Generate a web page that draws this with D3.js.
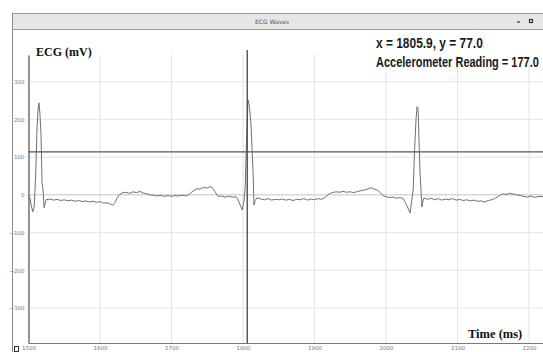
<!DOCTYPE html>
<html>
<head>
<meta charset="utf-8">
<script src="https://cdn.jsdelivr.net/npm/d3@7"></script>
<style>
  html, body { margin: 0; padding: 0; background: #fff; }
  svg { display: block; }
</style>
</head>
<body>
<div id="chart"></div>
<script>
// ECG samples (time in ms, value in mV)
const timeMs = [
  1500, 1502, 1504, 1506, 1508, 1510, 1512, 1513.5, 1514.7, 1516, 1517.5, 1519, 1520.5, 1521.7, 1523, 1524.5,
  1530, 1535, 1540, 1545, 1550, 1555, 1560, 1565, 1570, 1575, 1580, 1585, 1590, 1595, 1600, 1605, 1610, 1615,
  1618, 1621, 1624, 1627, 1631, 1636, 1641, 1646, 1651, 1656, 1660, 1665, 1670, 1675, 1680, 1685, 1690, 1695,
  1700, 1705, 1710, 1715, 1720, 1725, 1730, 1735, 1740, 1745, 1750, 1754, 1758, 1761, 1765, 1770, 1775, 1780,
  1785, 1790, 1793, 1796, 1799, 1801, 1803, 1805, 1807, 1809, 1811, 1813, 1814, 1815.4, 1817, 1819.6,
  1825, 1830, 1835, 1840, 1845, 1850, 1855, 1860, 1865, 1870, 1875, 1880, 1885, 1890, 1895, 1900, 1905, 1910,
  1915, 1920, 1925, 1930, 1935, 1940, 1945, 1950, 1955, 1960, 1965, 1970, 1975, 1980, 1984, 1988, 1992, 1996,
  2000, 2005, 2010, 2015, 2020, 2024, 2027, 2030, 2033.6, 2036, 2038, 2040, 2042, 2043.4, 2044.8, 2046, 2047.6,
  2049, 2050.3, 2052, 2053.1, 2058, 2063, 2068, 2073, 2078, 2083, 2088, 2093, 2098, 2103, 2108, 2113, 2118,
  2123, 2128, 2133, 2138, 2143, 2148, 2153, 2158, 2163, 2168, 2173, 2178, 2183, 2188, 2193, 2198, 2203, 2208,
  2213, 2220
];
const ecgMv = [
  -2, -8, -30, -45, -30, 50, 180, 230, 244, 215, 160, 30, 10, -34, -25, -13,
  -11, -14, -12, -15, -13, -16, -14, -17, -15, -18, -16, -19, -17, -20, -18, -22, -21, -25,
  -28, -20, -8, 0, 5, 7, 4, 8, 6, 9, 5, 3, 0, -1, -3, -1, -4, -2,
  -4, -2, -3, -1, -3, 2, 10, 16, 15, 20, 18, 22, 17, 8, -4, -3, -6, -4,
  -6, -5, -12, -27, -40, -20, 15, 150, 252, 235, 190, 110, 66, -27, -15, -8,
  -11, -13, -10, -14, -12, -13, -11, -14, -12, -15, -12, -13, -10, -14, -11, -13, -10, -12,
  -6, 2, 6, 8, 7, 9, 7, 8, 6, 9, 11, 13, 16, 19, 15, 12, 6, -2,
  -5, -7, -6, -9, -7, -10, -20, -32, -48, -15, 13, 120, 200, 234, 230, 160, 58,
  10, -32, -15, -8, -12, -9, -13, -10, -14, -11, -13, -10, -14, -12, -15, -13, -16,
  -14, -17, -16, -19, -15, -13, -9, -3, 3, 1, 4, 2, 0, -2, -4, -6, -3, -7,
  -4, -5
];
const xTicks = [1500, 1600, 1700, 1800, 1900, 2000, 2100, 2200];
const yTicks = [-300, -200, -100, 0, 100, 200, 300];
const xDomain = [1500, 2220];
const yDomain = [-393, 371];
const cursorX = 1805.9;
const cursorY = 114;
const readoutText = ["x = 1805.9, y = 77.0", "Accelerometer Reading = 177.0"];

const width = 543, height = 352;
const plot = { left: 28.5, right: 543.3, top: 55, bottom: 343 };

const svg = d3.select("#chart").append("svg")
  .attr("width", width).attr("height", height);

const x = d3.scaleLinear().domain(xDomain).range([plot.left, plot.right]);
const y = d3.scaleLinear().domain(yDomain).range([plot.bottom, plot.top]);

// window frame
svg.append("rect").attr("x", 12.5).attr("y", 13.5).attr("width", 540).attr("height", 16)
  .attr("fill", "#e6e6e6").attr("stroke", "#9a9a9a");
svg.append("line").attr("x1", 12.5).attr("x2", 12.5).attr("y1", 13.5).attr("y2", 352)
  .attr("stroke", "#8a8a8a");
svg.append("text").attr("x", 272).attr("y", 24).attr("text-anchor", "middle")
  .attr("font-family", "DejaVu Sans").attr("font-size", 6).attr("fill", "#555")
  .text("ECG Waves");
svg.append("line").attr("x1", 517).attr("x2", 520).attr("y1", 22).attr("y2", 22)
  .attr("stroke", "#333").attr("stroke-width", 1.2);
svg.append("rect").attr("x", 529.5).attr("y", 19.5).attr("width", 3).attr("height", 3)
  .attr("fill", "none").attr("stroke", "#333").attr("stroke-width", 1.2);
svg.append("rect").attr("x", 14.5).attr("y", 346.5).attr("width", 4).attr("height", 5)
  .attr("fill", "none").attr("stroke", "#333").attr("stroke-width", 1);

// grid
const grid = svg.append("g");
grid.selectAll(".vg").data(xTicks).join("line")
  .attr("x1", d => x(d)).attr("x2", d => x(d))
  .attr("y1", plot.top).attr("y2", plot.bottom)
  .attr("stroke", "#e2e2e2");
grid.selectAll(".hg").data(yTicks).join("line")
  .attr("x1", plot.left).attr("x2", plot.right)
  .attr("y1", d => y(d)).attr("y2", d => y(d))
  .attr("stroke", d => d === 0 ? "#c4c4c4" : "#e6e6e6");

// axes
const xAxis = svg.append("g").attr("transform", `translate(0,${plot.bottom})`)
  .call(d3.axisBottom(x).tickValues(xTicks).tickSize(0).tickPadding(3).tickFormat(d3.format("d")));
const yAxis = svg.append("g").attr("transform", `translate(${plot.left},0)`)
  .call(d3.axisLeft(y).tickValues(yTicks).tickSize(0).tickPadding(4).tickFormat(d3.format("d")));
[xAxis, yAxis].forEach(a => {
  a.select(".domain").attr("stroke", "#777");
  a.selectAll("text").attr("font-family", "DejaVu Sans").attr("font-size", 5.5).attr("fill", "#777");
});
yAxis.select(".domain").attr("stroke", "#555").attr("stroke-width", 1.2);

// ecg trace
const ecg = timeMs.map((t, i) => ({ t, v: ecgMv[i] }));
svg.append("path").datum(ecg)
  .attr("fill", "none").attr("stroke", "#707070").attr("stroke-width", 1)
  .attr("d", d3.line().x(d => x(d.t)).y(d => y(d.v)));

// crosshair
svg.append("line").attr("x1", x(cursorX)).attr("x2", x(cursorX))
  .attr("y1", plot.top - 5).attr("y2", plot.bottom)
  .attr("stroke", "#444").attr("stroke-width", 1.3);
svg.append("line").attr("x1", plot.left).attr("x2", plot.right)
  .attr("y1", y(cursorY)).attr("y2", y(cursorY))
  .attr("stroke", "#555").attr("stroke-width", 1.3);

// titles
svg.append("text").attr("x", 36).attr("y", 56)
  .attr("font-family", "Liberation Serif").attr("font-weight", "bold").attr("font-size", 12)
  .attr("fill", "#111").text("ECG (mV)");
svg.append("text").attr("x", 468).attr("y", 338)
  .attr("font-family", "Liberation Serif").attr("font-weight", "bold").attr("font-size", 12.5)
  .attr("fill", "#111").text("Time (ms)");

// readout: bold face, squeezed horizontally to the narrow look of the reference
const readoutWidths = [107, 163];
svg.selectAll(".readout").data(readoutText).join("g")
  .attr("transform", (d, i) => `translate(376,${48 + i * 19})`)
  .append("text")
  .attr("font-family", "'Liberation Sans', sans-serif")
  .attr("font-weight", "bold").attr("font-size", 14.5).attr("fill", "#1a1a1a")
  .text(d => d)
  .attr("transform", function (d, i) {
    const w = this.getComputedTextLength();
    return `scale(${readoutWidths[i] / w},1)`;
  });
</script>
</body>
</html>
